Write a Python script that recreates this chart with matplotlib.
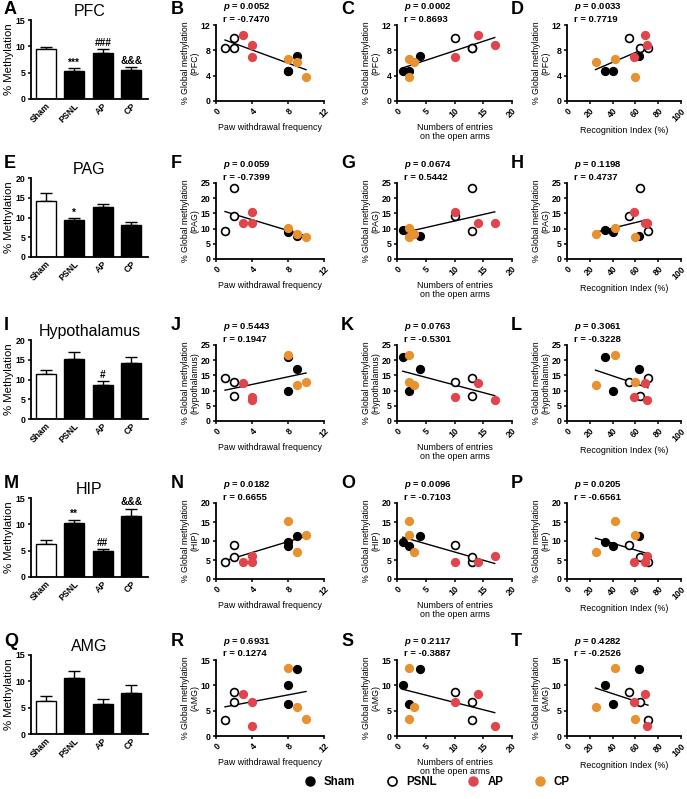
import numpy as np
import matplotlib
matplotlib.use('Agg')
import matplotlib.pyplot as plt
from matplotlib.lines import Line2D

plt.rcParams['font.family'] = ['Liberation Sans', 'DejaVu Sans']
plt.rcParams['font.weight'] = 'bold'
plt.rcParams['axes.linewidth'] = 1.3
plt.rcParams['mathtext.fontset'] = 'custom'
plt.rcParams['mathtext.bfit'] = 'Liberation Sans:bold:italic'

# ---------------- data ----------------
groups = ['Sham', 'PSNL', 'AP', 'CP']
regions = ['PFC', 'PAG', 'Hypothalamus', 'HIP', 'AMG']

bar_mean = {
    'PFC': [9.4, 5.3, 8.8, 5.5],
    'PAG': [14.3, 9.3, 12.6, 8.1],
    'Hypothalamus': [11.3, 15.2, 8.6, 14.2],
    'HIP': [6.2, 10.3, 5.0, 11.5],
    'AMG': [6.3, 10.7, 5.7, 7.7],
}
bar_sem = {
    'PFC': [0.4, 0.5, 0.6, 0.5],
    'PAG': [2.0, 0.5, 0.8, 0.7],
    'Hypothalamus': [1.1, 1.7, 1.0, 1.5],
    'HIP': [0.9, 0.5, 0.4, 1.5],
    'AMG': [0.9, 1.2, 1.0, 1.6],
}
bar_marks = {
    'PFC': ['', '***', '###', '&&&'],
    'PAG': ['', '*', '', ''],
    'Hypothalamus': ['', '', '#', ''],
    'HIP': ['', '**', '##', '&&&'],
    'AMG': ['', '', '', ''],
}
bar_ymax = {'PFC': 15, 'PAG': 20, 'Hypothalamus': 20, 'HIP': 15, 'AMG': 15}

# behaviour per animal (scatter colour groups)
paw_black = [8, 8, 9];     ent_black = [1, 2, 4];    rec_black = [33, 40, 63]
paw_open = [1, 2, 2];      ent_open = [13, 13, 10];  rec_open = [71, 64, 54]
paw_red = [3, 4, 4];       ent_red = [14, 17, 10];   rec_red = [68, 70, 59]
paw_orange = [8, 10, 9];   ent_orange = [2, 2, 3];   rec_orange = [42, 60, 25]

# methylation per animal per region
meth_black = {'PFC': [4.8, 4.8, 7.1], 'PAG': [9.7, 8.9, 7.7], 'Hypothalamus': [21, 10, 17],
              'HIP': [9.8, 8.7, 11.3], 'AMG': [10.1, 6.3, 13.3]}
meth_open = {'PFC': [8.4, 8.4, 9.9], 'PAG': [9.2, 23.3, 14.0], 'Hypothalamus': [14, 8.2, 12.8],
             'HIP': [4.5, 5.7, 9.0], 'AMG': [3.2, 6.8, 8.6]}
meth_red = {'PFC': [10.5, 8.8, 7.0], 'PAG': [11.8, 12.0, 15.3], 'Hypothalamus': [12.5, 7.0, 7.8],
            'HIP': [4.6, 6.1, 4.4], 'AMG': [8.2, 2.0, 6.8]}
meth_orange = {'PFC': [6.7, 3.8, 6.2], 'PAG': [10.2, 7.2, 8.1], 'Hypothalamus': [21.8, 12.7, 12.0],
               'HIP': [15.2, 11.6, 7.0], 'AMG': [13.5, 3.4, 5.7]}

scatter_ylim = {'PFC': (12, [0, 4, 8, 12]), 'PAG': (25, [0, 5, 10, 15, 20, 25]),
                'Hypothalamus': (25, [0, 5, 10, 15, 20, 25]), 'HIP': (20, [0, 5, 10, 15, 20]),
                'AMG': (15, [0, 5, 10, 15])}

stats = {
    'PFC': [('0.0052', '-0.7470'), ('0.0002', '0.8693'), ('0.0033', '0.7719')],
    'PAG': [('0.0059', '-0.7399'), ('0.0674', '0.5442'), ('0.1198', '0.4737')],
    'Hypothalamus': [('0.5443', '0.1947'), ('0.0763', '-0.5301'), ('0.3061', '-0.3228')],
    'HIP': [('0.0182', '0.6655'), ('0.0096', '-0.7103'), ('0.0205', '-0.6561')],
    'AMG': [('0.6931', '0.1274'), ('0.2117', '-0.3887'), ('0.4282', '-0.2526')],
}
letters = ['ABCD', 'EFGH', 'IJKL', 'MNOP', 'QRST']

RED = '#e0454b'
ORANGE = '#e8912f'

# ---------------- layout ----------------
W, H = 687, 799
fig = plt.figure(figsize=(W / 100, H / 100), dpi=100)


def ax_px(l, t, r, b):
    return fig.add_axes([l / W, 1 - b / H, (r - l) / W, (b - t) / H])


bar_cols = (31, 148)
sc_cols = [(216, 324), (397, 512), (567, 681)]
row_off = [0, 158, 320, 478, 635]
letter_x = [4, 171, 341, 511]

xinfo = [
    ('paw', 12, [0, 4, 8, 12], 'Paw withdrawal frequency'),
    ('ent', 20, [0, 5, 10, 15, 20], 'Numbers of entries\non the open arms'),
    ('rec', 100, [0, 20, 40, 60, 80, 100], 'Recognition Index (%)'),
]
beh = {
    'paw': (paw_black, paw_open, paw_red, paw_orange),
    'ent': (ent_black, ent_open, ent_red, ent_orange),
    'rec': (rec_black, rec_open, rec_red, rec_orange),
}


def style(ax):
    for s in ['top', 'right']:
        ax.spines[s].set_visible(False)
    ax.tick_params(length=2.5, width=1.1, labelsize=6.3, pad=1.5)
    for lab in ax.get_xticklabels() + ax.get_yticklabels():
        lab.set_fontweight('bold')


for i, reg in enumerate(regions):
    o = row_off[i]
    # ---- bar chart ----
    ax = ax_px(bar_cols[0], 20 + o, bar_cols[1], 99 + o)
    x = np.arange(4)
    colors = ['white', 'black', 'black', 'black']
    ax.bar(x, bar_mean[reg], width=0.7, color=colors, edgecolor='black', linewidth=1.0, zorder=2)
    ax.errorbar(x, bar_mean[reg], yerr=[np.zeros(4), bar_sem[reg]], fmt='none',
                ecolor='black', elinewidth=1.0, capsize=4, capthick=1.0, zorder=1)
    for xi, m, s, t in zip(x, bar_mean[reg], bar_sem[reg], bar_marks[reg]):
        if t:
            ax.text(xi, m + s + 0.2, t, ha='center', va='bottom', fontsize=7.3)
    ax.set_xlim(-0.52, 3.58)
    ax.set_ylim(0, bar_ymax[reg])
    ax.set_yticks(np.arange(0, bar_ymax[reg] + 1, 5))
    ax.set_xticks(x)
    ax.set_xticklabels(groups, rotation=45, ha='right', rotation_mode='anchor')
    ax.set_ylabel('% Methylation', fontsize=8.2, labelpad=1)
    style(ax)
    ax.tick_params(axis='x', length=0)
    ax.set_title(reg, fontsize=11.5, pad=3)
    ly = max(10, 25 + o - 19)
    fig.text(letter_x[0] / W, 1 - ly / H, letters[i][0], fontsize=13, va='center', ha='left')

    # ---- scatter plots ----
    for j, (key, xmax, xt, xl) in enumerate(xinfo):
        l, r = sc_cols[j]
        top = 25 + o
        ax = ax_px(l, top, r, 101 + o)
        xb, xo, xr, xor = beh[key]
        allx = np.array(xb + xo + xr + xor, dtype=float)
        ally = np.array(meth_black[reg] + meth_open[reg] + meth_red[reg] + meth_orange[reg], dtype=float)
        k, c = np.polyfit(allx, ally, 1)
        xx = np.array([allx.min(), allx.max()])
        ax.plot(xx, k * xx + c, color='black', lw=1.0, zorder=1)
        ms = 32
        ax.scatter(xb, meth_black[reg], s=ms, color='black', zorder=3)
        ax.scatter(xo, meth_open[reg], s=ms, facecolor='white', edgecolor='black', linewidth=1.2, zorder=3)
        ax.scatter(xr, meth_red[reg], s=ms, color=RED, zorder=3)
        ax.scatter(xor, meth_orange[reg], s=ms, color=ORANGE, zorder=3)
        ymax, yt = scatter_ylim[reg]
        ax.set_xlim(0, xmax)
        ax.set_ylim(0, ymax)
        ax.set_xticks(xt)
        ax.set_yticks(yt)
        ax.set_xticklabels([str(v) for v in xt], rotation=45, ha='right', rotation_mode='anchor')
        ax.set_xlabel(xl, fontsize=6.4, labelpad=2, linespacing=1.05)
        ax.set_ylabel('% Global methylation\n(' + reg + ')', fontsize=6.3, labelpad=1, linespacing=1.05)
        style(ax)
        p, rv = stats[reg][j]
        tx = (l + 7) / W
        fig.text(tx, 1 - (top - 18) / H, r'$\bfit{p}$ = ' + p, fontsize=6.8, va='center')
        fig.text(tx, 1 - (top - 6) / H, 'r = ' + rv, fontsize=6.8, va='center')
        fig.text(letter_x[j + 1] / W, 1 - ly / H, letters[i][j + 1], fontsize=13,
                 va='center', ha='left')

handles = [
    Line2D([], [], marker='o', ls='none', color='black', markersize=6.5),
    Line2D([], [], marker='o', ls='none', markerfacecolor='white', markeredgecolor='black',
           markeredgewidth=1.2, markersize=6.5),
    Line2D([], [], marker='o', ls='none', color=RED, markersize=6.5),
    Line2D([], [], marker='o', ls='none', color=ORANGE, markersize=6.5),
]
fig.legend(handles, groups, ncol=4, loc='center', bbox_to_anchor=(0.632, 1 - 782 / H),
           frameon=False, prop={'weight': 'bold', 'size': 8.3}, handletextpad=0.2,
           columnspacing=2.2)

fig.savefig('out.png', dpi=100)
